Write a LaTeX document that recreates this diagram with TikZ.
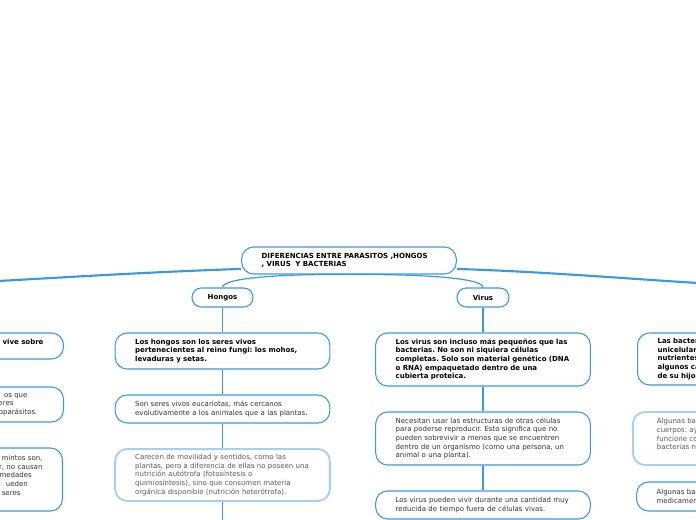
\documentclass[tikz,border=0pt]{standalone}
\usepackage{fontspec}
\setmainfont{DejaVu Sans}
\usetikzlibrary{calc}
\definecolor{mapblue}{HTML}{3A9AE0}
\definecolor{softblue}{HTML}{A6D0F2}
\definecolor{notegray}{HTML}{5A5A5A}
\definecolor{bodygray}{HTML}{333333}
\newcommand\mapsize{\fontsize{5.25}{6.5}\selectfont\frenchspacing}
\newcommand\tailgap[1]{\hbox to #1{}}

\tikzset{
  idea/.style={draw=mapblue, line width=0.8pt, rounded corners=9pt, fill=white,
    align=left, text width=131pt, inner xsep=15pt, inner ysep=0pt,
    font=\mapsize, text=bodygray},
  boldidea/.style={idea, font=\mapsize\bfseries, text=black},
  softidea/.style={idea, draw=softblue, line width=1.4pt, text=notegray},
  topic/.style={draw=mapblue, line width=0.8pt, rounded corners=7pt, fill=white,
    font=\mapsize\bfseries, minimum height=14.25pt, inner sep=0pt},
  link/.style={mapblue, line width=0.9pt},
  mainlink/.style={mapblue, line width=1.6pt},
}

\begin{document}
\begin{tikzpicture}[x=0.75pt, y=-0.75pt]
    \useasboundingbox (0,0) rectangle (696,520);
    \clip (0,0) rectangle (696,520);

    % Central topic and branches
    \node[boldidea, minimum height=20.25pt] (root) at (349,260.5)
        {DIFERENCIAS ENTRE PARASITOS ,HONGOS\\, VIRUS\ \ Y BACTERIAS};
    \node[topic, minimum width=45.75pt] (hongos) at (222.5,297.5) {Hongos};
    \node[topic, minimum width=39pt] (virus) at (483,297.5) {Virus};
    \coordinate (parasitos) at (-10,281.5);
    \coordinate (bacterias) at (706,283.5);

    % Parasitos column (cut at the left edge)
    \node[boldidea, align=right, anchor=east, minimum height=19.5pt] (parasitosA) at (64,346)
        {vive sobre\\\mbox{}};
    \node[idea, align=right, anchor=east, minimum height=26.25pt] (parasitosB) at (64,404.5)
        {os que\tailgap{12pt}\\seres\tailgap{22.5pt}\\toparásitos.\tailgap{4.5pt}};
    \node[idea, align=right, anchor=east, minimum height=47.25pt] (parasitosC) at (63,479.5)
        {mintos son,\\ir, no causan\\rmedades\tailgap{8pt}\\ueden\tailgap{11pt}\\seres\tailgap{16.5pt}\\\mbox{}};

    % Hongos column
    \node[boldidea, minimum height=27pt] (hongosA) at (222.5,351)
        {Los hongos son los seres vivos\\pertenecientes al reino fungi: los mohos,\\levaduras y setas.};
    \node[idea, minimum height=21pt] (hongosB) at (222.5,409)
        {Son seres vivos eucariotas, más cercanos\\evolutivamente a los animales que a las plantas.};
    \node[softidea, minimum height=39pt] (hongosC) at (222.5,475)
        {Carecen de movilidad y sentidos, como las\\plantas, pero a diferencia de ellas no poseen una\\nutrición autótrofa (fotosíntesis o\\quimiosíntesis), sino que consumen materia\\orgánica disponible (nutrición heterótrofa).};
    \coordinate (hongosNext) at (222.5,530);

    % Virus column
    \node[boldidea, minimum height=39.75pt] (virusA) at (483,359.5)
        {Los virus son incluso más pequeños que las\\bacterias. No son ni siquiera células\\\mbox{completas. Solo son material genético (DNA}\\o RNA) empaquetado dentro de una\\cubierta proteica.};
    \node[idea, minimum height=39.75pt] (virusB) at (483,438.5)
        {Necesitan usar las estructuras de otras células\\para poderse reproducir. Esto significa que no\\pueden sobrevivir a menos que se encuentren\\dentro de un organismo (como una persona, un\\animal o una planta).};
    \node[idea, minimum height=21pt] (virusC) at (483,505)
        {Los virus pueden vivir durante una cantidad muy\\reducida de tiempo fuera de células vivas.};

    % Bacterias column (cut at the right edge)
    \node[boldidea, anchor=west, minimum height=39pt] (bacteriasA) at (637,359)
        {Las bacter\\unicelular\\nutrientes\\algunos ca\\de su hijo};
    \node[softidea, anchor=west, inner xsep=18pt, minimum height=39.75pt] (bacteriasB) at (632,438.5)
        {Algunas bac\\cuerpos: ay\\funcione co\\bacterias no\\\mbox{}};
    \node[idea, anchor=west, minimum height=21.75pt] (bacteriasC) at (636,496.5)
        {Algunas bac\\medicamen};

    % Connectors
    \draw[mainlink] ($(root.west)!0.6!(root.south west)$) .. controls (150,272) and (70,277) .. (parasitos);
    \draw[mainlink] ($(root.east)!0.6!(root.south east)$) .. controls (550,272) and (630,279) .. (bacterias);
    \draw[link] (root.south) .. controls (290,274) and (222.5,277) .. (hongos.north);
    \draw[link] (root.south) .. controls (410,274) and (483,277) .. (virus.north);
    \draw[link] (hongos) -- (hongosA);
    \draw[link] (hongosA) -- (hongosB);
    \draw[link] (hongosB) -- (hongosC);
    \draw[link] (hongosC) -- (hongosNext);
    \draw[link] (virus) -- (virusA);
    \draw[link] (virusA) -- (virusB);
    \draw[link] (virusB) -- (virusC);
\end{tikzpicture}
\end{document}
